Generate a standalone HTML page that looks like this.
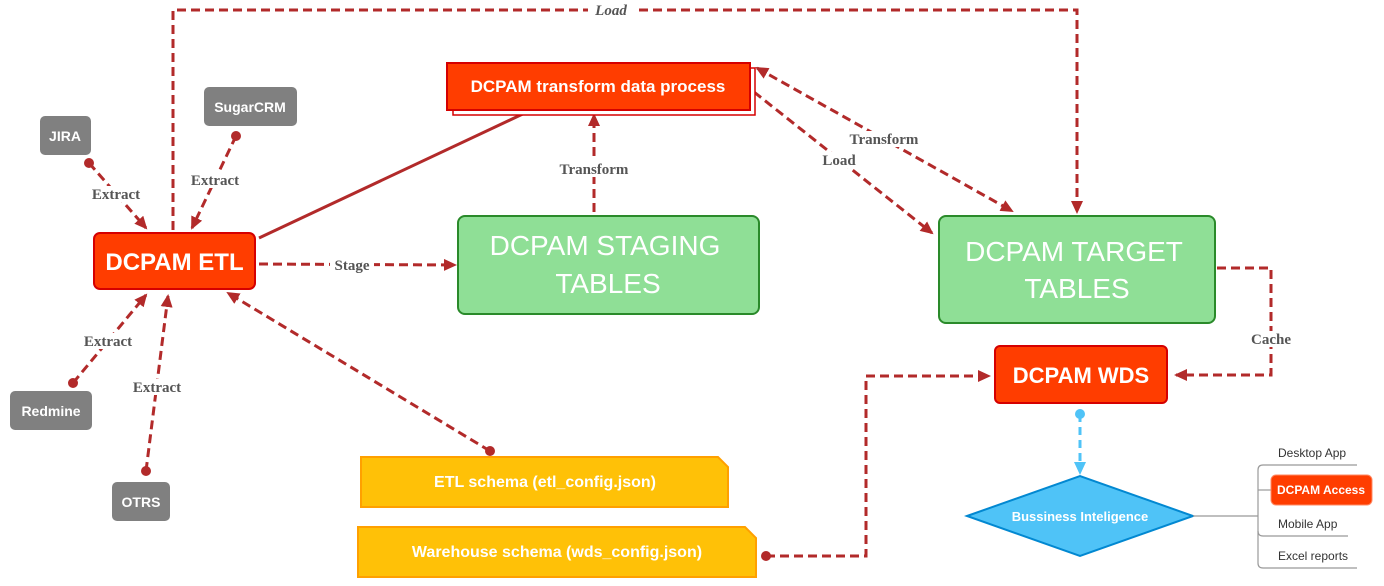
<!DOCTYPE html>
<html><head><meta charset="utf-8"><style>
html,body{margin:0;padding:0;background:#fff;}
svg{display:block;}
.b{font-family:"Liberation Sans",sans-serif;font-weight:bold;fill:#fff;}
.l{font-family:"Liberation Serif",serif;font-weight:bold;font-size:15px;fill:#555;}
.t{font-family:"Liberation Sans",sans-serif;font-size:12px;fill:#333;}
</style></head><body>
<svg width="1384" height="586" viewBox="0 0 1384 586" xmlns="http://www.w3.org/2000/svg">
<defs>
<marker id="a" markerWidth="13" markerHeight="12" refX="11" refY="6" orient="auto" markerUnits="userSpaceOnUse"><path d="M0,0 L13,6 L0,12 z" fill="#b22a2a"/></marker>
<marker id="as" markerWidth="13" markerHeight="12" refX="2" refY="6" orient="auto" markerUnits="userSpaceOnUse"><path d="M13,0 L0,6 L13,12 z" fill="#b22a2a"/></marker>
<marker id="ab" markerWidth="13" markerHeight="12" refX="10" refY="6" orient="auto" markerUnits="userSpaceOnUse"><path d="M0,0 L13,6 L0,12 z" fill="#4fc3f7"/></marker>
</defs>
<g fill="none" stroke="#b22a2a" stroke-width="3" stroke-dasharray="9 5">
<path d="M173,230 V10 H1077 V212" marker-end="url(#a)"/>
<path d="M89,163 L146,228" marker-end="url(#a)"/>
<path d="M236,136 L192,228" marker-end="url(#a)"/>
<path d="M73,383 L146,295" marker-end="url(#a)"/>
<path d="M146,471 L168,296" marker-end="url(#a)"/>
<path d="M259,264 L455,265" marker-end="url(#a)"/>
<path d="M490,451 L228,293" marker-end="url(#a)"/>
<path d="M594,212 L594,115" marker-end="url(#a)"/>
<path d="M754,92 L932,233" marker-end="url(#a)"/>
<path d="M757,68 L1012,211" marker-start="url(#as)" marker-end="url(#a)"/>
<path d="M1217,268 H1271 V375 H1176" marker-end="url(#a)"/>
<path d="M766,556 H866 V376 H989" marker-end="url(#a)"/>
</g>
<path d="M259,238 L527,112" stroke="#b22a2a" stroke-width="3" fill="none"/>
<path d="M1080,414 V472" stroke="#4fc3f7" stroke-width="3" stroke-dasharray="8 5" fill="none" marker-end="url(#ab)"/>
<g fill="#b22a2a"><circle cx="89" cy="163" r="5"/><circle cx="236" cy="136" r="5"/><circle cx="73" cy="383" r="5"/><circle cx="146" cy="471" r="5"/><circle cx="490" cy="451" r="5"/><circle cx="766" cy="556" r="5"/></g>
<circle cx="1080" cy="414" r="5" fill="#4fc3f7"/>
<g class="l" text-anchor="middle">
<rect x="588" y="2" width="46" height="16" fill="#fff"/>
<text x="611" y="15" font-style="italic">Load</text>
<rect x="86" y="186" width="60" height="16" fill="#fff"/><text x="116" y="199">Extract</text>
<rect x="185" y="172" width="60" height="16" fill="#fff"/><text x="215" y="185">Extract</text>
<rect x="78" y="333" width="60" height="16" fill="#fff"/><text x="108" y="346">Extract</text>
<rect x="127" y="379" width="60" height="16" fill="#fff"/><text x="157" y="392">Extract</text>
<rect x="330" y="257" width="44" height="16" fill="#fff"/><text x="352" y="270">Stage</text>
<rect x="552" y="161" width="84" height="16" fill="#fff"/><text x="594" y="174">Transform</text>
<rect x="820" y="152" width="38" height="16" fill="#fff"/><text x="839" y="165">Load</text>
<rect x="842" y="131" width="84" height="16" fill="#fff"/><text x="884" y="144">Transform</text>
<rect x="1246" y="331" width="50" height="16" fill="#fff"/><text x="1271" y="344">Cache</text>
</g>
<g fill="#808080">
<rect x="40" y="116" width="51" height="39" rx="5"/>
<rect x="204" y="87" width="93" height="39" rx="5"/>
<rect x="10" y="391" width="82" height="39" rx="5"/>
<rect x="112" y="482" width="58" height="39" rx="5"/>
</g>
<g class="b" font-size="14" text-anchor="middle">
<text x="65" y="141">JIRA</text>
<text x="250" y="112">SugarCRM</text>
<text x="51" y="416">Redmine</text>
<text x="141" y="507">OTRS</text>
</g>
<rect x="94" y="233" width="161" height="56" rx="6" fill="#ff3d00" stroke="#d50000" stroke-width="2"/>
<text class="b" x="174.5" y="270" font-size="24" text-anchor="middle">DCPAM ETL</text>
<rect x="453" y="68" width="302" height="47" fill="#fff" stroke="#d50000" stroke-width="1.5"/>
<rect x="447" y="63" width="303" height="47" fill="#ff3d00" stroke="#d50000" stroke-width="2"/>
<text class="b" x="598" y="92" font-size="17" text-anchor="middle">DCPAM transform data process</text>
<rect x="458" y="216" width="301" height="98" rx="7" fill="#8fdf96" stroke="#2a8a2a" stroke-width="2"/>
<text x="605" y="255" font-family="Liberation Sans,sans-serif" font-size="28" fill="#fff" text-anchor="middle">DCPAM STAGING</text>
<text x="608" y="293" font-family="Liberation Sans,sans-serif" font-size="28" fill="#fff" text-anchor="middle">TABLES</text>
<rect x="939" y="216" width="276" height="107" rx="7" fill="#8fdf96" stroke="#2a8a2a" stroke-width="2"/>
<text x="1074" y="261" font-family="Liberation Sans,sans-serif" font-size="28" fill="#fff" text-anchor="middle">DCPAM TARGET</text>
<text x="1077" y="298" font-family="Liberation Sans,sans-serif" font-size="28" fill="#fff" text-anchor="middle">TABLES</text>
<rect x="995" y="346" width="172" height="57" rx="5" fill="#ff3d00" stroke="#d50000" stroke-width="2"/>
<text class="b" x="1081" y="383" font-size="22" text-anchor="middle">DCPAM WDS</text>
<path d="M361,457 H718 L728,467 V507 H361 Z" fill="#ffc107" stroke="#ffa000" stroke-width="2"/>
<text class="b" x="545" y="487" font-size="16" text-anchor="middle">ETL schema (etl_config.json)</text>
<path d="M358,527 H745 L756,538 V577 H358 Z" fill="#ffc107" stroke="#ffa000" stroke-width="2"/>
<text class="b" x="557" y="557" font-size="16" text-anchor="middle">Warehouse schema (wds_config.json)</text>
<path d="M967,516 L1080,476 L1193,516 L1080,556 Z" fill="#4fc3f7" stroke="#0288d1" stroke-width="2"/>
<text class="b" x="1080" y="521" font-size="13" text-anchor="middle">Bussiness Inteligence</text>
<g fill="none" stroke="#999" stroke-width="1.2">
<path d="M1193,516 H1258"/>
<path d="M1357,465 H1263 Q1258,465 1258,470 V563 Q1258,568 1263,568 H1357"/>
<path d="M1258,490 H1271"/>
<path d="M1348,536 H1263 Q1258,536 1258,531"/>
</g>
<text class="t" x="1278" y="457">Desktop App</text>
<rect x="1271" y="475" width="101" height="30" rx="5" fill="#ff3d00" stroke="#ff8a65"/>
<text class="b" x="1321" y="494" font-size="12" text-anchor="middle">DCPAM Access</text>
<text class="t" x="1278" y="528">Mobile App</text>
<text class="t" x="1278" y="560">Excel reports</text>
</svg>
</body></html>
